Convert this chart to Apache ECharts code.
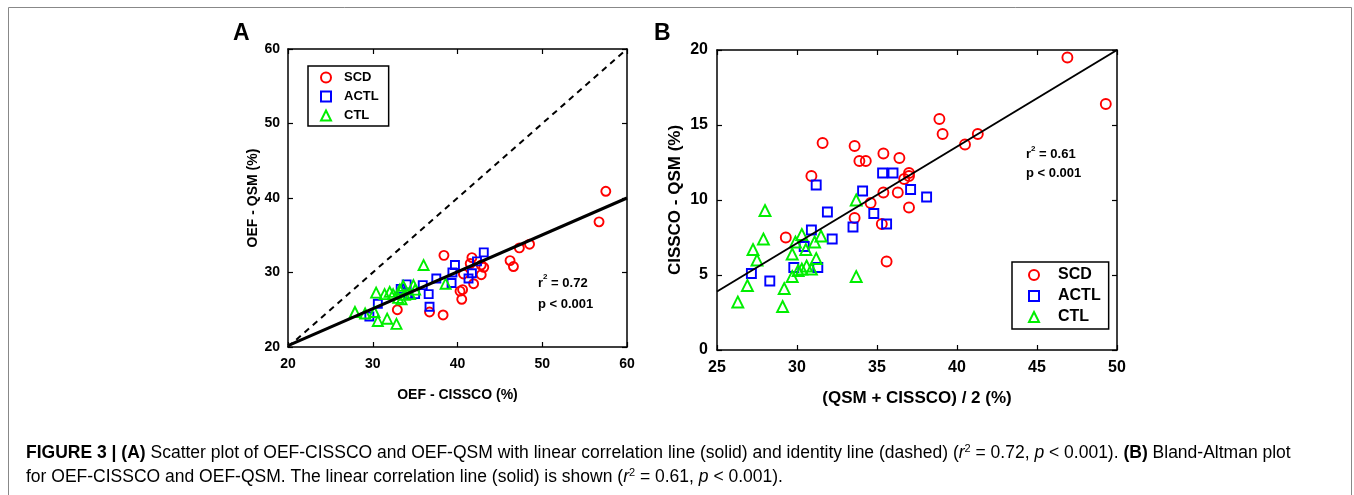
<!DOCTYPE html>
<html>
<head>
<meta charset="utf-8">
<script src="https://cdn.jsdelivr.net/npm/echarts@6/dist/echarts.min.js"></script>
<style>
html,body{margin:0;padding:0;background:#fff;}
#c{width:1354px;height:495px;}
</style>
</head>
<body>
<div id="c"></div>
<script>
// ---------- Panel A data: OEF-CISSCO (x) vs OEF-QSM (y), % ----------
const scdA = [[57.5,40.9],[56.7,36.8],[48.5,33.8],[47.3,33.3],[46.2,31.6],[46.6,30.8],[38.4,32.3],[41.7,32.0],[42.8,31.0],[43.1,30.7],[41.5,31.2],[40.7,29.8],[42.8,29.7],[41.9,28.5],[40.3,27.5],[40.6,27.7],[40.5,26.4],[36.7,24.7],[38.3,24.3],[32.9,25.0]];
const actlA = [[43.1,32.7],[42.3,31.5],[39.7,31.0],[39.4,30.0],[41.7,29.9],[41.3,29.2],[37.5,29.2],[39.3,28.6],[35.9,28.3],[36.6,27.1],[36.7,25.4],[30.6,25.8],[29.6,24.1],[34.0,28.4],[34.2,27.1],[35.0,27.1],[33.3,27.8]];
const ctlA = [[36.0,31.0],[38.6,28.5],[30.4,27.3],[31.4,27.1],[30.2,24.7],[29.1,24.5],[27.9,24.7],[30.6,23.5],[31.7,23.8],[32.8,23.1],[32.4,27.1],[33.2,27.7],[33.6,28.2],[34.4,27.1],[33.0,26.6],[35.0,27.7],[32.0,27.4],[33.8,27.0],[34.8,28.3],[33.4,26.4]];
const fitA = [[20,20.2],[60,40.0]];
const identityA = [[20,20],[60,60]];
const ticksA = [20,30,40,50,60];

// ---------- Panel B data: mean (x) vs difference (y), % ----------
const scdB = [[46.9,19.5],[49.3,16.4],[38.9,15.4],[39.1,14.4],[41.3,14.4],[40.5,13.7],[31.6,13.8],[33.6,13.6],[33.9,12.6],[34.3,12.6],[35.4,13.1],[36.4,12.8],[30.9,11.6],[37.0,11.8],[37.0,11.6],[36.7,11.4],[35.4,10.5],[36.3,10.5],[34.6,9.8],[37.0,9.5],[33.6,8.8],[35.3,8.4],[29.3,7.5],[35.6,5.9]];
const actlB = [[31.2,11.0],[35.35,11.8],[36.0,11.8],[34.1,10.6],[37.1,10.7],[38.1,10.2],[31.9,9.2],[34.8,9.1],[30.9,8.0],[33.5,8.2],[35.6,8.4],[32.2,7.4],[30.45,6.9],[29.8,5.5],[31.3,5.5],[27.15,5.1],[28.3,4.6]];
const ctlB = [[33.7,10.0],[28.0,9.3],[27.9,7.4],[27.25,6.7],[27.5,6.0],[30.3,7.7],[31.5,7.6],[29.9,7.2],[31.1,7.2],[30.55,6.7],[29.7,6.4],[31.2,6.1],[30.3,5.4],[30.6,5.6],[30.9,5.4],[30.07,5.3],[29.7,4.9],[33.7,4.9],[26.9,4.3],[26.3,3.2],[29.2,4.1],[29.1,2.9]];
const fitB = [[25,3.9],[50,20.0]];
const ticksBx = [25,30,35,40,45,50];
const ticksBy = [0,5,10,15,20];

const RED = '#ff0000', BLUE = '#0000ff', GREEN = '#00ee00';
const FONT = '"Liberation Sans", Arial, sans-serif';

function axisPair(kind, grid, min, max, interval, opts) {
  const base = {
    type: 'value', gridIndex: grid, min: min, max: max, interval: interval,
    splitLine: {show: false},
    axisLine: {show: true, onZero: false, lineStyle: {color: '#000', width: 1.5}},
    axisTick: {show: true, inside: true, length: 5, lineStyle: {color: '#000', width: 1.2}}
  };
  const main = Object.assign({}, base, {
    position: kind === 'x' ? 'bottom' : 'left',
    axisLabel: {color: '#000', fontWeight: 'bold', fontFamily: FONT, fontSize: opts.fs, margin: opts.margin},
    name: opts.name, nameLocation: 'middle', nameGap: opts.nameGap,
    nameTextStyle: {color: '#000', fontWeight: 'bold', fontFamily: FONT, fontSize: opts.nfs}
  });
  const sec = Object.assign({}, base, {
    position: kind === 'x' ? 'top' : 'right',
    axisLabel: {show: false}
  });
  return [main, sec];
}

const chart = echarts.init(document.getElementById('c'), null, {renderer: 'canvas'});

const xA = axisPair('x', 0, 20, 60, 10, {fs: 14, margin: 10, name: 'OEF - CISSCO (%)', nameGap: 41, nfs: 14});
const yA = axisPair('y', 0, 20, 60, 10, {fs: 14, margin: 8, name: 'OEF - QSM (%)', nameGap: 28, nfs: 14});
const xB = axisPair('x', 1, 25, 50, 5, {fs: 16, margin: 10, name: '(QSM + CISSCO) / 2 (%)', nameGap: 40, nfs: 17});
const yB = axisPair('y', 1, 0, 20, 5, {fs: 16, margin: 9, name: 'CISSCO - QSM (%)', nameGap: 33, nfs: 17});

function scatter(name, data, symbol, color, size, xi, yi) {
  return {
    type: 'scatter', name: name, data: data, symbol: symbol, symbolSize: size,
    xAxisIndex: xi, yAxisIndex: yi,
    itemStyle: {color: 'rgba(0,0,0,0)', borderColor: color, borderWidth: 1.9, opacity: 1},
    emphasis: {disabled: true}, z: 3
  };
}
function line(data, width, type, xi, yi) {
  return {
    type: 'line', data: data, xAxisIndex: xi, yAxisIndex: yi, symbol: 'none',
    lineStyle: {color: '#000', width: width, type: type}, silent: true, z: 4
  };
}

const legendBase = {
  orient: 'vertical', selectedMode: false,
  borderColor: '#000', borderWidth: 1.5, backgroundColor: '#fff',
  itemWidth: 10, itemHeight: 10
};

const CF = 17.5;
const captionRich = {
  n: {fontFamily: FONT, fontSize: CF, color: '#1a1a1a'},
  b: {fontFamily: FONT, fontSize: CF, color: '#1a1a1a', fontWeight: 'bold'},
  i: {fontFamily: FONT, fontSize: CF, color: '#1a1a1a', fontStyle: 'italic'},
  sup: {fontFamily: FONT, fontSize: 11, color: '#1a1a1a', verticalAlign: 'top', padding: [0,0,9,0]}
};

const option = {
  animation: false,
  backgroundColor: '#fff',
  grid: [
    {left: 288, top: 49, width: 339, height: 298, show: false},
    {left: 717, top: 50, width: 400, height: 300, show: false}
  ],
  xAxis: [Object.assign(xA[0], {gridIndex: 0}), Object.assign(xA[1], {gridIndex: 0}), Object.assign(xB[0], {gridIndex: 1}), Object.assign(xB[1], {gridIndex: 1})],
  yAxis: [Object.assign(yA[0], {gridIndex: 0}), Object.assign(yA[1], {gridIndex: 0}), Object.assign(yB[0], {gridIndex: 1}), Object.assign(yB[1], {gridIndex: 1})],
  legend: [
    Object.assign({}, legendBase, {
      left: 308, top: 66, padding: [5, 10, 4, 12], itemGap: 6,
      data: ['SCD', 'ACTL', 'CTL'],
      textStyle: {color: '#000', fontWeight: 'bold', fontFamily: FONT, fontSize: 13, padding: [0, 0, 0, 8]}
    }),
    Object.assign({}, legendBase, {
      left: 1012, top: 262, padding: [5, 8, 4, 16], itemGap: 5,
      data: ['SCD', 'ACTL', 'CTL'],
      textStyle: {color: '#000', fontWeight: 'bold', fontFamily: FONT, fontSize: 16, padding: [0, 0, 0, 14]}
    })
  ],
  series: [
    line(identityA, 2, [6, 5], 0, 0),
    line(fitA, 3, 'solid', 0, 0),
    scatter('SCD', scdA, 'circle', RED, 9, 0, 0),
    scatter('ACTL', actlA, 'rect', BLUE, 8, 0, 0),
    scatter('CTL', ctlA, 'triangle', GREEN, 10, 0, 0),
    line(fitB, 2, 'solid', 2, 2),
    scatter('SCD', scdB, 'circle', RED, 10, 2, 2),
    scatter('ACTL', actlB, 'rect', BLUE, 9, 2, 2),
    scatter('CTL', ctlB, 'triangle', GREEN, 11, 2, 2)
  ],
  graphic: [
    {type: 'rect', shape: {x: 8.5, y: 7.5, width: 1343, height: 500}, style: {fill: 'none', stroke: '#888', lineWidth: 1}, silent: true},
    {type: 'text', left: 233, top: 22, style: {text: 'A', font: 'bold 23px ' + FONT, fill: '#000'}},
    {type: 'text', left: 654, top: 22, style: {text: 'B', font: 'bold 23px ' + FONT, fill: '#000'}},
    {type: 'text', left: 538, top: 273, style: {
      text: '{t|r}{s|2}{t| = 0.72}\n{t|p < 0.001}',
      rich: {t: {font: 'bold 13px ' + FONT, fill: '#000', lineHeight: 21}, s: {font: 'bold 8px ' + FONT, fill: '#000', verticalAlign: 'top', lineHeight: 21, padding: [0,0,6,0]}}
    }},
    {type: 'text', left: 1026, top: 145, style: {
      text: '{t|r}{s|2}{t| = 0.61}\n{t|p < 0.001}',
      rich: {t: {font: 'bold 13px ' + FONT, fill: '#000', lineHeight: 19}, s: {font: 'bold 8px ' + FONT, fill: '#000', verticalAlign: 'top', lineHeight: 19, padding: [0,0,6,0]}}
    }},
    {type: 'text', left: 26, top: 443, style: {
      text: '{b|FIGURE 3 | (A)}{n| Scatter plot of OEF-CISSCO and OEF-QSM with linear correlation line (solid) and identity line (dashed) (}{i|r}{sup|2}{n| = 0.72, }{i|p}{n| < 0.001). }{b|(B)}{n| Bland-Altman plot}',
      rich: captionRich
    }},
    {type: 'text', left: 26, top: 467, style: {
      text: '{n|for OEF-CISSCO and OEF-QSM. The linear correlation line (solid) is shown (}{i|r}{sup|2}{n| = 0.61, }{i|p}{n| < 0.001).}',
      rich: captionRich
    }}
  ]
};
chart.setOption(option);
</script>
</body>
</html>
